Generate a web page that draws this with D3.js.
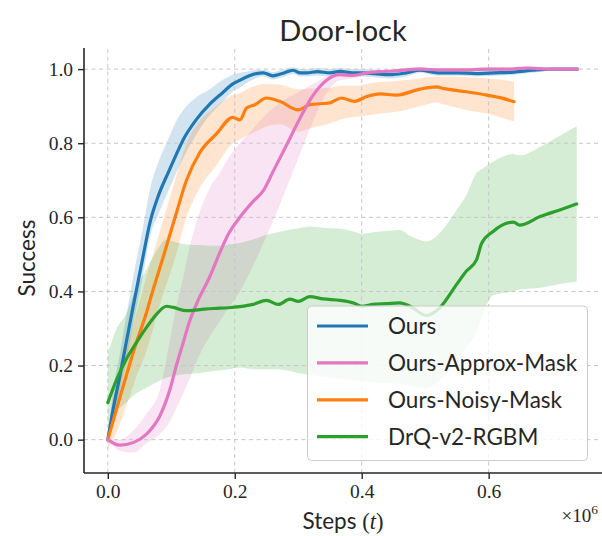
<!DOCTYPE html>
<html>
<head>
<meta charset="utf-8">
<script src="https://cdn.jsdelivr.net/npm/d3@7/dist/d3.min.js"></script>
<style>
  html, body { margin: 0; padding: 0; background: #ffffff; }
  svg { display: block; }
</style>
</head>
<body>
<svg id="chart" width="602" height="536"></svg>
<script>
// Training steps are given in millions (axis carries a ×10^6 offset label).
const xTicks = [0.0, 0.2, 0.4, 0.6];
const yTicks = [0.0, 0.2, 0.4, 0.6, 0.8, 1.0];
const seriesNames = ["Ours", "Ours-Approx-Mask", "Ours-Noisy-Mask", "DrQ-v2-RGBM"];
const seriesColors = ["#1f77b4", "#e377c2", "#ff7f0e", "#2ca02c"];

// Ours
const oursSteps = [0, 0.0084, 0.019, 0.029, 0.04, 0.055, 0.067, 0.08, 0.095, 0.108,
  0.119, 0.14, 0.161, 0.18, 0.197, 0.208, 0.223, 0.234, 0.245, 0.26,
  0.275, 0.292, 0.303, 0.313, 0.33, 0.35, 0.366, 0.385, 0.4, 0.42,
  0.444, 0.47, 0.492, 0.52, 0.55, 0.58, 0.61, 0.64, 0.67, 0.7, 0.74];
const oursMean = [0, 0.082, 0.172, 0.262, 0.36, 0.49, 0.59, 0.66, 0.72, 0.77,
  0.81, 0.865, 0.906, 0.935, 0.96, 0.97, 0.982, 0.988, 0.99, 0.982,
  0.988, 0.997, 0.99, 0.99, 0.993, 0.99, 0.994, 0.99, 0.99, 0.988,
  0.985, 0.99, 0.997, 0.99, 0.99, 0.988, 0.99, 0.992, 0.997, 1.0, 1.0];
const oursHigh = [0, 0.132, 0.232, 0.332, 0.44, 0.57, 0.68, 0.75, 0.81, 0.86,
  0.89, 0.925, 0.946, 0.97, 0.985, 0.99, 0.994, 0.998, 0.998, 0.992,
  0.998, 1.005, 1.0, 1.0, 1.003, 1.0, 1.003, 1.0, 1.0, 0.998,
  0.995, 1.0, 1.005, 1.0, 1.0, 0.998, 1.0, 1.0, 1.003, 1.003, 1.002];
const oursLow = [0, 0.052, 0.132, 0.212, 0.31, 0.44, 0.55, 0.61, 0.67, 0.72,
  0.76, 0.825, 0.876, 0.91, 0.94, 0.95, 0.967, 0.976, 0.98, 0.972,
  0.978, 0.987, 0.98, 0.98, 0.983, 0.98, 0.984, 0.98, 0.98, 0.978,
  0.975, 0.98, 0.99, 0.982, 0.982, 0.98, 0.982, 0.985, 0.99, 0.997, 0.998];

// Ours-Approx-Mask
const approxSteps = [0, 0.019, 0.04, 0.061, 0.082, 0.098, 0.108, 0.119, 0.129, 0.142,
  0.161, 0.1765, 0.19, 0.208, 0.229, 0.245, 0.2605, 0.2816, 0.3026, 0.3236,
  0.3447, 0.3656, 0.3866, 0.4077, 0.4287, 0.45, 0.4917, 0.52, 0.56, 0.6,
  0.63, 0.66, 0.7, 0.74];
const approxMean = [0, -0.015, -0.008, 0.015, 0.064, 0.136, 0.2, 0.263, 0.32, 0.375,
  0.441, 0.505, 0.555, 0.6, 0.643, 0.672, 0.724, 0.795, 0.867, 0.93,
  0.97, 0.985, 0.983, 0.99, 0.993, 0.995, 1.0, 0.998, 0.998, 1.0,
  1.0, 1.003, 1.0, 1.0];
const approxHigh = [0, 0.0, 0.025, 0.07, 0.135, 0.27, 0.36, 0.44, 0.52, 0.6,
  0.68, 0.72, 0.76, 0.8, 0.84, 0.87, 0.895, 0.92, 0.94, 0.96,
  0.98, 0.99, 0.99, 0.995, 0.998, 1.0, 1.005, 1.003, 1.003, 1.005,
  1.005, 1.008, 1.003, 1.002];
const approxLow = [0, -0.03, -0.035, -0.01, 0.015, 0.05, 0.085, 0.125, 0.165, 0.22,
  0.28, 0.32, 0.355, 0.4, 0.47, 0.53, 0.59, 0.68, 0.77, 0.86,
  0.935, 0.97, 0.975, 0.983, 0.987, 0.99, 0.995, 0.993, 0.993, 0.995,
  0.995, 0.998, 0.997, 0.998];

// Ours-Noisy-Mask
const noisySteps = [0, 0.0137, 0.029, 0.045, 0.061, 0.068, 0.085, 0.106, 0.124, 0.145,
  0.171, 0.197, 0.208, 0.2186, 0.2317, 0.25, 0.271, 0.3, 0.318, 0.35,
  0.368, 0.389, 0.408, 0.4287, 0.455, 0.4917, 0.518, 0.528, 0.565, 0.597,
  0.618, 0.64];
const noisyMean = [0, 0.082, 0.172, 0.262, 0.343, 0.385, 0.48, 0.6, 0.7, 0.775,
  0.825, 0.87, 0.863, 0.895, 0.904, 0.922, 0.913, 0.89, 0.904, 0.909,
  0.922, 0.913, 0.926, 0.933, 0.93, 0.946, 0.952, 0.948, 0.939, 0.93,
  0.923, 0.912];
const noisyHigh = [0, 0.13, 0.24, 0.34, 0.44, 0.48, 0.58, 0.7, 0.8, 0.86,
  0.9, 0.93, 0.935, 0.945, 0.955, 0.96, 0.958, 0.946, 0.948, 0.95,
  0.955, 0.955, 0.96, 0.965, 0.968, 0.975, 0.98, 0.98, 0.978, 0.975,
  0.972, 0.966];
const noisyLow = [-0.025, 0.02, 0.09, 0.17, 0.24, 0.28, 0.38, 0.49, 0.6, 0.68,
  0.74, 0.8, 0.81, 0.82, 0.83, 0.845, 0.851, 0.831, 0.84, 0.853,
  0.865, 0.871, 0.875, 0.88, 0.885, 0.9, 0.91, 0.905, 0.89, 0.88,
  0.87, 0.859];

// DrQ-v2-RGBM
const drqSteps = [0, 0.014, 0.029, 0.045, 0.061, 0.077, 0.0925, 0.103, 0.124, 0.145,
  0.166, 0.19, 0.208, 0.229, 0.25, 0.2685, 0.287, 0.30, 0.318, 0.339,
  0.366, 0.387, 0.40, 0.418, 0.439, 0.46, 0.476, 0.502, 0.523, 0.5496,
  0.565, 0.581, 0.589, 0.607, 0.639, 0.649, 0.681, 0.712, 0.7387];
const drqMean = [0.10, 0.163, 0.217, 0.262, 0.303, 0.339, 0.36, 0.357, 0.348, 0.351,
  0.354, 0.356, 0.359, 0.365, 0.376, 0.365, 0.379, 0.373, 0.386, 0.38,
  0.376, 0.369, 0.36, 0.365, 0.367, 0.369, 0.36, 0.335, 0.356, 0.419,
  0.455, 0.486, 0.53, 0.562, 0.587, 0.579, 0.602, 0.62, 0.636];
const drqHigh = [0.233, 0.3, 0.34, 0.41, 0.46, 0.51, 0.54, 0.535, 0.527, 0.525,
  0.523, 0.527, 0.531, 0.54, 0.553, 0.56, 0.567, 0.57, 0.575, 0.572,
  0.569, 0.562, 0.556, 0.56, 0.563, 0.566, 0.55, 0.535, 0.558, 0.62,
  0.66, 0.72, 0.73, 0.75, 0.771, 0.767, 0.79, 0.82, 0.846];
const drqLow = [0.03, 0.075, 0.1, 0.125, 0.14, 0.155, 0.168, 0.172, 0.177, 0.18,
  0.185, 0.19, 0.195, 0.19, 0.19, 0.19, 0.185, 0.18, 0.175, 0.17,
  0.165, 0.16, 0.158, 0.155, 0.152, 0.15, 0.145, 0.14, 0.16, 0.21,
  0.25, 0.29, 0.33, 0.39, 0.40, 0.405, 0.41, 0.42, 0.427];

function zipSeries(steps, mean, low, high) {
  return steps.map((s, i) => ({ x: s, y: mean[i], lo: low[i], hi: high[i] }));
}

const series = [
  { name: seriesNames[0], color: seriesColors[0], data: zipSeries(oursSteps, oursMean, oursLow, oursHigh) },
  { name: seriesNames[2], color: seriesColors[2], data: zipSeries(noisySteps, noisyMean, noisyLow, noisyHigh) },
  { name: seriesNames[1], color: seriesColors[1], data: zipSeries(approxSteps, approxMean, approxLow, approxHigh) },
  { name: seriesNames[3], color: seriesColors[3], data: zipSeries(drqSteps, drqMean, drqLow, drqHigh) }
];

const svg = d3.select("#chart");
const sans = "Lato, 'DejaVu Sans', sans-serif";
const serif = "'Liberation Serif', 'DejaVu Serif', serif";

const x = d3.scaleLinear().domain([-0.0375, 0.777]).range([84, 601]);
const y = d3.scaleLinear().domain([-0.09, 1.057]).range([473, 48]);

// Shaded spread bands
const area = d3.area().curve(d3.curveMonotoneX)
  .x(d => x(d.x)).y0(d => y(d.lo)).y1(d => y(d.hi));
svg.append("g").selectAll("path").data(series).join("path")
  .attr("d", s => area(s.data))
  .attr("fill", s => s.color)
  .attr("fill-opacity", 0.2)
  .attr("stroke", "none");

// Dashed grid
const grid = svg.append("g").attr("stroke", "#c6c6c6").attr("stroke-width", 1)
  .attr("stroke-dasharray", "4,3.5");
grid.selectAll("line.gx").data(xTicks).join("line").attr("class", "gx")
  .attr("x1", d => x(d)).attr("x2", d => x(d))
  .attr("y1", y.range()[0]).attr("y2", y.range()[1]);
grid.selectAll("line.gy").data(yTicks).join("line").attr("class", "gy")
  .attr("y1", d => y(d)).attr("y2", d => y(d))
  .attr("x1", x.range()[0]).attr("x2", x.range()[1]);

// Mean curves
const line = d3.line().curve(d3.curveMonotoneX).x(d => x(d.x)).y(d => y(d.y));
svg.append("g").selectAll("path").data(series).join("path")
  .attr("d", s => line(s.data))
  .attr("fill", "none")
  .attr("stroke", s => s.color)
  .attr("stroke-width", 3.2)
  .attr("stroke-linejoin", "round")
  .attr("stroke-linecap", "round");

// Axes
const xAxis = d3.axisBottom(x).tickValues(xTicks).tickFormat(d3.format(".1f"))
  .tickSize(6).tickPadding(5);
const yAxis = d3.axisLeft(y).tickValues(yTicks).tickFormat(d3.format(".1f"))
  .tickSize(6).tickPadding(5);

const gx = svg.append("g").attr("transform", `translate(0,${y.range()[0]})`).call(xAxis);
const gy = svg.append("g").attr("transform", `translate(${x.range()[0]},0)`).call(yAxis);
[gx, gy].forEach(g => {
  g.select(".domain").attr("stroke", "#262626").attr("stroke-width", 1.6);
  g.selectAll(".tick line").attr("stroke", "#262626").attr("stroke-width", 1.4);
  g.selectAll(".tick text").attr("fill", "#262626")
    .style("font-family", serif).style("font-size", "19.5px");
});
gx.select(".domain").attr("d", `M${x.range()[0]},0H${x.range()[1] + 1}`);
gy.select(".domain").attr("d", `M0,${y.range()[1]}V${y.range()[0]}`);

// Title
svg.append("text").attr("x", 343).attr("y", 41).attr("text-anchor", "middle")
  .style("font-family", sans).style("font-size", "29px").attr("fill", "#262626")
  .text("Door-lock");

// Axis labels
const xl = svg.append("text").attr("x", 343).attr("y", 529).attr("text-anchor", "middle")
  .style("font-family", sans).style("font-size", "22.5px").attr("fill", "#262626");
xl.append("tspan").text("Steps ");
xl.append("tspan").style("font-family", serif).text("(");
xl.append("tspan").style("font-family", serif).style("font-style", "italic").text("t");
xl.append("tspan").style("font-family", serif).text(")");

svg.append("text").attr("transform", "translate(35,258) rotate(-90)")
  .attr("text-anchor", "middle")
  .style("font-family", sans).style("font-size", "22.5px").attr("fill", "#262626")
  .text("Success");

// Offset multiplier
const off = svg.append("text").attr("x", 598).attr("y", 522).attr("text-anchor", "end")
  .style("font-family", serif).style("font-size", "19px").attr("fill", "#262626");
off.append("tspan").text("×10");
off.append("tspan").attr("dy", -8).style("font-size", "13.5px").text("6");

// Legend
const legend = svg.append("g");
legend.append("rect").attr("x", 307.5).attr("y", 306).attr("width", 280).attr("height", 154.5)
  .attr("rx", 4).attr("fill", "#ffffff").attr("fill-opacity", 0.8)
  .attr("stroke", "#cccccc").attr("stroke-width", 1);
const legendRows = legend.selectAll("g.row").data(seriesNames).join("g").attr("class", "row")
  .attr("transform", (d, i) => `translate(0,${326 + i * 36.9})`);
legendRows.append("line").attr("x1", 317).attr("x2", 368).attr("y1", 0).attr("y2", 0)
  .attr("stroke", (d, i) => seriesColors[i]).attr("stroke-width", 3.2);
legendRows.append("text").attr("x", 388).attr("y", 8)
  .style("font-family", sans).style("font-size", "22.5px").attr("fill", "#262626")
  .text(d => d);
</script>
</body>
</html>
